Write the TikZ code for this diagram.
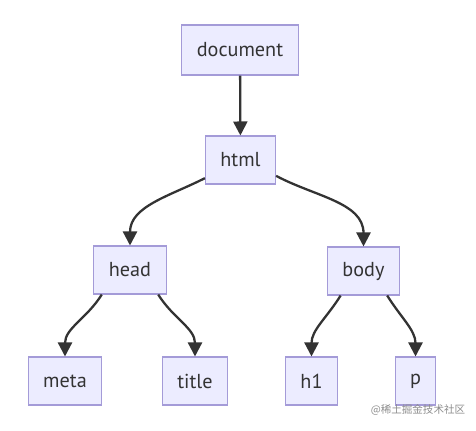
\documentclass[tikz,border=0pt]{standalone}
\usepackage{fontspec}
\setmainfont{PT Sans}
\newfontfamily\cjk{Noto Sans CJK SC}
\usetikzlibrary{arrows.meta}
\definecolor{boxfill}{HTML}{ECECFF}
\definecolor{boxline}{HTML}{A49BD8}
\definecolor{linkcol}{HTML}{333333}

\begin{document}
\begin{tikzpicture}[
  x=0.02cm, y=0.02cm,
  element/.style={draw=boxline,fill=boxfill,line width=0.6pt,inner xsep=0.3cm,
    minimum height=0.96cm,font=\fontsize{11.5}{13}\selectfont,text=linkcol},
  link/.style={-{Triangle[length=2.8mm,width=2.8mm]},line width=1.3pt,draw=linkcol}
]
  \useasboundingbox (0,0) rectangle (476,-430);

  \node[element,minimum height=1cm] (document) at (240,-50) {document};
  \node[element] (html) at (240.5,-160) {html};
  \node[element] (head) at (130,-270) {head};
  \node[element] (body) at (363.5,-271) {body};
  \node[element] (meta) at (65,-381) {meta};
  \node[element] (title) at (195,-381) {title};
  \node[element] (h1) at (311.5,-381) {h1};
  \node[element] (p) at (415.5,-381) {p};

  \draw[link] (document) -- (html);
  \draw[link] (html.207) to[out=207,in=90] (head.north);
  \draw[link] (html.336) to[out=-28,in=90] (body.north);
  \draw[link] (head.221) to[out=238,in=90] (meta.north);
  \draw[link] (head.319) to[out=-58,in=90] (title.north);
  \draw[link] (body.227) to[out=238,in=90] (h1.north);
  \draw[link] (body.314) to[out=-58,in=90] (p.north);

  \node[text=black!45,font=\cjk\fontsize{6}{7}\selectfont] (mark) at (418,-410) {@稀土掘金技术社区};
\end{tikzpicture}
\end{document}
